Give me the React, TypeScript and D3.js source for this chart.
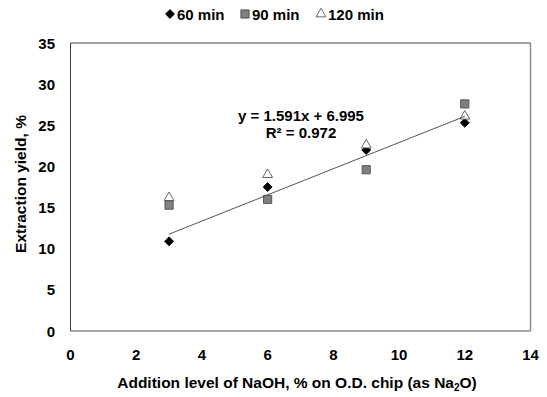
import React, { useEffect, useRef } from 'react'
import * as d3 from 'd3'

// NaOH addition level (% on O.D. chip as Na2O)
const naohLevels = [3, 6, 9, 12]
const yield60 = [10.9, 17.5, 22.0, 25.3]
const yield90 = [15.3, 16.0, 19.6, 27.6]
const yield120 = [16.2, 19.0, 22.6, 26.1]
const xTicks = [0, 2, 4, 6, 8, 10, 12, 14]
const yTicks = [0, 5, 10, 15, 20, 25, 30, 35]
const trendSlope = 1.591
const trendIntercept = 6.995

const W = 547
const H = 397
const FONT = 'Liberation Sans, Arial, sans-serif'

const App: React.FC = () => {
  const svgRef = useRef<SVGSVGElement>(null)

  useEffect(() => {
    if (!svgRef.current) return
    const svg = d3.select(svgRef.current)
    svg.selectAll('*').remove()

    const left = 70.5
    const right = 530.5
    const top = 43
    const bottom = 331

    const x = d3.scaleLinear().domain([0, 14]).range([left, right])
    const y = d3.scaleLinear().domain([0, 35]).range([bottom, top])

    svg.append('rect').attr('width', W).attr('height', H).attr('fill', '#fff')

    // frame: dark top/left, lighter bottom/right
    svg.append('line').attr('x1', left).attr('x2', right).attr('y1', bottom).attr('y2', bottom)
      .attr('stroke', '#8c8c8c').attr('stroke-width', 1.5)
    svg.append('line').attr('x1', right).attr('x2', right).attr('y1', top).attr('y2', bottom)
      .attr('stroke', '#8c8c8c').attr('stroke-width', 1.5)
    svg.append('line').attr('x1', left).attr('x2', right).attr('y1', top).attr('y2', top)
      .attr('stroke', '#404040').attr('stroke-width', 1)
    svg.append('line').attr('x1', left).attr('x2', left).attr('y1', top).attr('y2', bottom)
      .attr('stroke', '#404040').attr('stroke-width', 1)

    // tick labels
    svg.append('g').selectAll('text').data(yTicks).enter().append('text')
      .attr('x', 55).attr('y', (d) => y(d) + 5.5)
      .attr('text-anchor', 'end')
      .attr('font-family', FONT).attr('font-weight', 'bold').attr('font-size', 15)
      .attr('fill', '#000').text((d) => d)

    svg.append('g').selectAll('text').data(xTicks).enter().append('text')
      .attr('x', (d) => x(d)).attr('y', 360)
      .attr('text-anchor', 'middle')
      .attr('font-family', FONT).attr('font-weight', 'bold').attr('font-size', 15)
      .attr('fill', '#000').text((d) => d)

    // axis titles
    svg.append('text')
      .attr('transform', `translate(26,${(top + bottom) / 2 - 3}) rotate(-90)`)
      .attr('text-anchor', 'middle')
      .attr('font-family', FONT).attr('font-weight', 'bold').attr('font-size', 15.5)
      .text('Extraction yield, %')

    const xt = svg.append('text')
      .attr('x', 297).attr('y', 388)
      .attr('text-anchor', 'middle')
      .attr('font-family', FONT).attr('font-weight', 'bold').attr('font-size', 15.5)
    xt.append('tspan').text('Addition level of NaOH, % on O.D. chip (as Na')
    xt.append('tspan').attr('font-size', 10).attr('dy', 3).text('2')
    xt.append('tspan').attr('dy', -3).text('O)')

    const diamond = d3.symbol().type(d3.symbolDiamond2).size(50)
    const square = d3.symbol().type(d3.symbolSquare2).size(85)
    const triangle = d3.symbol().type(d3.symbolTriangle2).size(70)

    // points
    const pts = svg.append('g')
    pts.selectAll('.d60').data(naohLevels).enter().append('path')
      .attr('d', diamond()!)
      .attr('transform', (d, i) => `translate(${x(d)},${y(yield60[i])})`)
      .attr('fill', '#000').attr('stroke', '#000')
    pts.selectAll('.d120').data(naohLevels).enter().append('path')
      .attr('d', triangle()!)
      .attr('transform', (d, i) => `translate(${x(d)},${y(yield120[i])})`)
      .attr('fill', '#fff').attr('stroke', '#666').attr('stroke-width', 1)
    pts.selectAll('.d90').data(naohLevels).enter().append('path')
      .attr('d', square()!)
      .attr('transform', (d, i) => `translate(${x(d)},${y(yield90[i])})`)
      .attr('fill', '#808080').attr('stroke', '#555').attr('stroke-width', 1)

    // linear trend line
    const x0 = d3.min(naohLevels)!
    const x1 = d3.max(naohLevels)!
    svg.append('line')
      .attr('x1', x(x0)).attr('y1', y(trendSlope * x0 + trendIntercept))
      .attr('x2', x(x1)).attr('y2', y(trendSlope * x1 + trendIntercept))
      .attr('stroke', '#555').attr('stroke-width', 1)

    svg.append('text').attr('x', 301).attr('y', 121)
      .attr('text-anchor', 'middle')
      .attr('font-family', FONT).attr('font-weight', 'bold').attr('font-size', 15)
      .text(`y = ${trendSlope}x + ${trendIntercept}`)
    svg.append('text').attr('x', 301).attr('y', 138)
      .attr('text-anchor', 'middle')
      .attr('font-family', FONT).attr('font-weight', 'bold').attr('font-size', 15)
      .text('R² = 0.972')

    // legend
    const legend = [
      { label: '60 min', sym: diamond, fill: '#000', stroke: '#000', x: 170 },
      { label: '90 min', sym: square, fill: '#808080', stroke: '#555', x: 245 },
      { label: '120 min', sym: triangle, fill: '#fff', stroke: '#666', x: 321 },
    ]
    const lg = svg.append('g')
    legend.forEach((l) => {
      lg.append('path').attr('d', l.sym()!)
        .attr('transform', `translate(${l.x},14)`)
        .attr('fill', l.fill).attr('stroke', l.stroke)
      lg.append('text').attr('x', l.x + 7).attr('y', 19.5)
        .attr('font-family', FONT).attr('font-weight', 'bold').attr('font-size', 15)
        .text(l.label)
    })
  }, [])

  return (
    <svg
      ref={svgRef}
      width={W}
      height={H}
      style={{ position: 'absolute', left: 0, top: 0 }}
    />
  )
}

export default App
